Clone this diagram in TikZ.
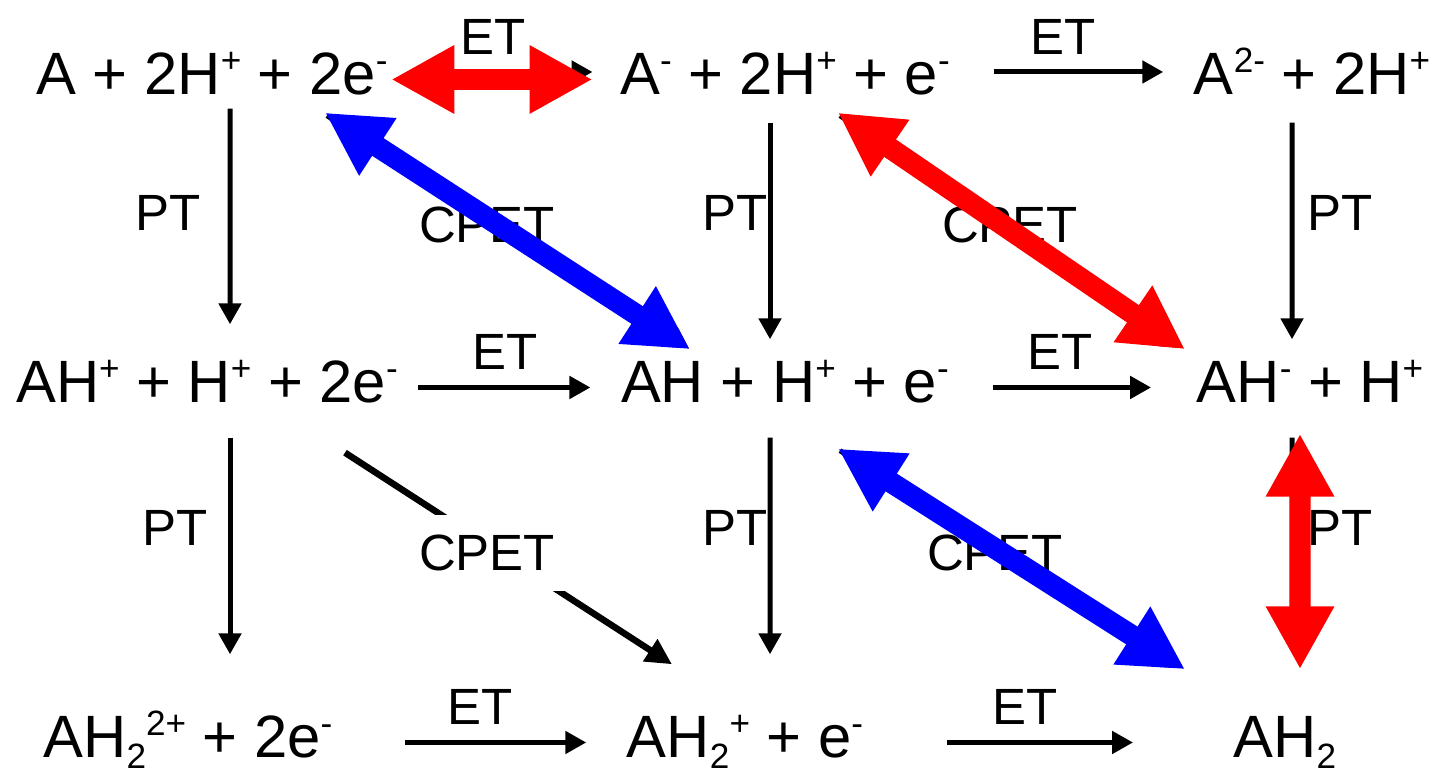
\documentclass[tikz,border=0pt]{standalone}
\usepackage{fontspec}
\setmainfont{Liberation Sans}
\usepackage{tikz}
\usetikzlibrary{arrows.meta}

\newcommand{\chup}[1]{\raisebox{6.5pt}{\fontsize{10}{12}\selectfont #1}}
\newcommand{\chdn}[1]{\raisebox{-3pt}{\fontsize{10}{12}\selectfont #1}}

\tikzset{
  species/.style={inner sep=0pt, text height=0.43cm, text depth=0.12cm, anchor=base,
    font=\fontsize{17}{20}\selectfont},
  lbl/.style={inner sep=1pt, font=\fontsize{14.5}{17}\selectfont},
  cpet/.style={lbl, fill=white, inner xsep=0.1cm, inner ysep=0.2cm},
  rxn/.style={line width=0.05cm, -{Triangle[length=0.21cm,width=0.22cm]}},
  fast/.style={line width=0.21cm,
    {Triangle[length=0.63cm,width=0.64cm]}-{Triangle[length=0.63cm,width=0.64cm]}},
}

\begin{document}
\begin{tikzpicture}
      \useasboundingbox (0,0) rectangle (14.41,7.72);

      % species
      \node[species] (r1c1) at (2.12,6.77) {A + 2H\chup{+} + 2e\chup{-}};
      \node[species] (r1c2) at (7.85,6.77) {A\chup{-} + 2H\chup{+} + e\chup{-}};
      \node[species] (r1c3) at (13.12,6.77) {A\chup{2-} + 2H\chup{+}};
      \node[species] (r2c1) at (2.07,3.69) {AH\chup{+} + H\chup{+} + 2e\chup{-}};
      \node[species] (r2c2) at (7.85,3.69) {AH + H\chup{+} + e\chup{-}};
      \node[species] (r2c3) at (13.10,3.69) {AH\chup{-} + H\chup{+}};
      \node[species] (r3c1) at (1.88,0.14) {AH\chdn{2}\chup{2+} + 2e\chup{-}};
      \node[species] (r3c2) at (7.45,0.14) {AH\chdn{2}\chup{+} + e\chup{-}};
      \node[species] (r3c3) at (12.85,0.14) {AH\chdn{2}};

      % labels
      \node[lbl] (et11) at (4.93,7.35) {ET};
      \node[lbl] (et12) at (10.63,7.35) {ET};
      \node[lbl] (et21) at (5.05,4.20) {ET};
      \node[lbl] (et22) at (10.60,4.20) {ET};
      \node[lbl] (et31) at (4.80,0.65) {ET};
      \node[lbl] (et32) at (10.25,0.65) {ET};
      \node[lbl] (pt11) at (1.68,5.59) {PT};
      \node[lbl] (pt12) at (7.35,5.59) {PT};
      \node[lbl] (pt13) at (13.40,5.59) {PT};
      \node[lbl] (pt21) at (1.75,2.44) {PT};
      \node[lbl] (pt22) at (7.35,2.44) {PT};
      \node[lbl] (pt23) at (13.40,2.44) {PT};

      % ET
      \draw[rxn, shorten <=0.35cm, shorten >=0.27cm] ([yshift=0.075cm]r1c1.east) -- ([yshift=0.075cm]r1c2.west);
      \draw[rxn, shorten <=0.43cm, shorten >=0.30cm] ([yshift=0.075cm]r1c2.east) -- ([yshift=0.075cm]r1c3.west);
      \draw[rxn, shorten <=0.20cm, shorten >=0.30cm] (r2c1.east) -- (r2c2.west);
      \draw[rxn, shorten <=0.43cm, shorten >=0.45cm] (r2c2.east) -- (r2c3.west);
      \draw[rxn, shorten <=0.72cm, shorten >=0.40cm] (r3c1.east) -- (r3c2.west);
      \draw[rxn, shorten <=0.83cm, shorten >=1.00cm] (r3c2.east) -- (r3c3.west);

      % PT
      \draw[rxn, shorten <=0.01cm, shorten >=0.35cm] ([xshift=0.18cm]r1c1.south) -- ([xshift=0.23cm]r2c1.north);
      \draw[rxn, shorten <=0.22cm, shorten >=0.60cm] ([xshift=0.23cm]r2c1.south) -- ([xshift=0.42cm]r3c1.north);
      \draw[rxn, shorten <=0.15cm, shorten >=0.20cm] ([xshift=-0.15cm]r1c2.south) -- ([xshift=-0.15cm]r2c2.north);
      \draw[rxn, shorten <=0.22cm, shorten >=0.60cm] ([xshift=-0.15cm]r2c2.south) -- ([xshift=0.25cm]r3c2.north);
      \draw[rxn, shorten <=0.15cm, shorten >=0.20cm] ([xshift=-0.20cm]r1c3.south) -- ([xshift=-0.18cm]r2c3.north);
      \draw[rxn, shorten <=0.22cm, shorten >=0.80cm] ([xshift=-0.18cm]r2c3.south) -- ([xshift=0.07cm]r3c3.north);

      % CPET
      \draw[rxn] ([shift={(1.15,-0.08)}]r1c1.south) -- ([shift={(-0.96,0.11)}]r2c2.north);
      \draw[rxn] ([shift={(0.55,-0.08)}]r1c2.south) -- ([shift={(-1.27,0.11)}]r2c3.north);
      \draw[rxn, line width=0.065cm, -{Triangle[length=0.26cm,width=0.25cm]}]
        ([shift={(1.38,-0.37)}]r2c1.south) -- ([shift={(-0.73,0.50)}]r3c2.north);
      \draw[rxn] ([shift={(0.55,-0.35)}]r2c2.south) -- ([shift={(-1.02,0.46)}]r3c3.north);

      \node[cpet] (cp11) at (4.87,5.47) {CPET};
      \node[cpet] (cp12) at (10.10,5.47) {CPET};
      \node[cpet] (cp21) at (4.87,2.19) {CPET};
      \node[cpet] (cp22) at (9.95,2.19) {CPET};

      % fast steps
      \draw[fast, red, shorten <=0.03cm, shorten >=0.27cm] (r1c1.east) -- (r1c2.west);
      \draw[fast, blue] ([shift={(1.13,-0.05)}]r1c1.south) -- ([shift={(-0.95,0.10)}]r2c2.north);
      \draw[fast, red] ([shift={(0.53,-0.05)}]r1c2.south) -- ([shift={(-1.25,0.10)}]r2c3.north);
      \draw[fast, blue] ([shift={(0.53,-0.33)}]r2c2.south) -- ([shift={(-1.00,0.45)}]r3c3.north);
      \draw[fast, red, shorten <=0.18cm, shorten >=0.45cm] ([xshift=-0.10cm]r2c3.south) -- ([xshift=0.15cm]r3c3.north);
    \end{tikzpicture}
\end{document}
